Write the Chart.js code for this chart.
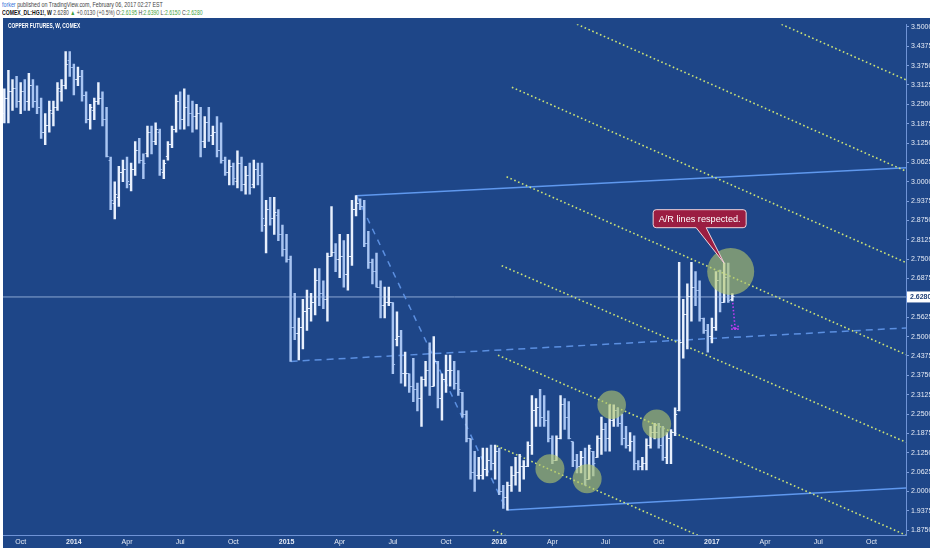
<!DOCTYPE html>
<html>
<head>
<meta charset="utf-8">
<script src="https://cdn.jsdelivr.net/npm/chart.js@4.4.0/dist/chart.umd.min.js"></script>
<style>
  html, body { margin: 0; padding: 0; background: #fff; }
  body { width: 932px; height: 550px; position: relative; overflow: hidden; font-family: 'Liberation Sans', Arial, sans-serif; }
  .hdr { position: absolute; left: 2px; white-space: nowrap; font-size: 7px; line-height: 8px; color: #444; transform-origin: left center; }
  .hdr b { color: #111; }
  .blue { color: #2f6fd8; }
  .green { color: #3f9f3f; }
  #wrap { position: absolute; left: 3px; top: 18px; width: 927px; height: 530px; background: #1e4688; }
  #title { position: absolute; left: 5px; top: 4px; color: #fff; font-size: 7px; font-weight: bold; white-space: nowrap; transform-origin: left center; z-index: 2; }
  canvas { position: absolute; left: 0; top: 0; }
</style>
</head>
<body>
<div class="hdr" style="top:1px" data-fit="161"><span class="blue">forker</span> published on TradingView.com, February 06, 2017 02:27 EST</div>
<div class="hdr" style="top:9px" data-fit="201"><b>COMEX_DL:HG1!, W</b> 2.6280 <span class="green">▲</span> +0.0130 (+0.5%) O:<span class="green">2.6195</span> H:<span class="green">2.6390</span> L:<span class="green">2.6150</span> C:<span class="green">2.6280</span></div>
<div id="wrap">
  <div id="title" data-fit="72">COPPER FUTURES, W, COMEX</div>
  <canvas id="chart"></canvas>
</div>
<script>
'use strict'

// weekly bars, index 0 = week of 2013-09-09
const firstBarDate = '2013-09-09';
const barHigh = [
  3.30,3.36,3.33,3.34,3.32,3.33,3.35,3.33,3.31,3.27,
  3.22,3.26,3.26,3.32,3.33,3.42,3.42,3.38,3.37,3.36,
  3.29,3.25,3.27,3.32,3.29,3.24,3.08,3.00,3.05,3.07,
  3.08,3.06,3.13,3.14,3.09,3.18,3.18,3.19,3.17,3.07,
  3.13,3.18,3.28,3.29,3.30,3.28,3.26,3.25,3.24,3.21,
  3.24,3.18,3.21,3.19,3.08,3.07,3.06,3.10,3.08,3.05,
  3.06,3.07,3.06,3.06,2.94,2.95,2.95,2.91,2.86,2.83,
  2.76,2.64,2.56,2.62,2.65,2.64,2.72,2.72,2.68,2.77,
  2.92,2.80,2.83,2.81,2.83,2.94,2.955,2.945,2.94,2.84,
  2.75,2.77,2.68,2.66,2.66,2.61,2.58,2.52,2.45,2.38,
  2.43,2.35,2.37,2.42,2.48,2.50,2.42,2.38,2.44,2.44,
  2.42,2.39,2.32,2.26,2.17,2.13,2.11,2.14,2.14,2.15,
  2.15,2.14,2.02,2.03,2.08,2.11,2.12,2.10,2.16,2.31,
  2.30,2.33,2.31,2.26,2.18,2.18,2.31,2.30,2.29,2.16,
  2.12,2.13,2.14,2.15,2.13,2.18,2.24,2.22,2.28,2.28,
  2.27,2.25,2.21,2.19,2.18,2.10,2.11,2.17,2.21,2.22,
  2.22,2.21,2.19,2.20,2.27,2.74,2.62,2.67,2.74,2.71,
  2.68,2.56,2.54,2.56,2.71,2.715,2.737,2.737,2.639
];
const barLow = [
  3.19,3.19,3.23,3.24,3.22,3.23,3.23,3.24,3.22,3.14,
  3.12,3.16,3.18,3.23,3.26,3.30,3.34,3.28,3.31,3.26,
  3.19,3.17,3.20,3.25,3.18,3.08,2.91,2.88,2.92,3.00,
  2.98,2.97,3.02,3.06,3.01,3.08,3.09,3.12,3.02,3.01,
  3.07,3.11,3.16,3.17,3.17,3.18,3.16,3.17,3.08,3.11,
  3.13,3.12,3.08,3.06,3.02,2.99,2.99,2.98,2.97,2.96,
  2.96,2.98,2.99,2.84,2.77,2.86,2.83,2.81,2.76,2.74,
  2.42,2.49,2.425,2.46,2.52,2.55,2.57,2.60,2.59,2.55,
  2.76,2.71,2.69,2.66,2.65,2.73,2.89,2.91,2.79,2.72,
  2.67,2.66,2.56,2.56,2.60,2.38,2.47,2.35,2.34,2.32,
  2.29,2.26,2.21,2.34,2.31,2.34,2.27,2.23,2.32,2.34,
  2.33,2.31,2.24,2.16,2.04,2.00,2.04,2.04,2.05,2.07,
  2.04,1.99,1.945,1.94,2.00,2.02,2.00,2.04,2.08,2.12,
  2.21,2.21,2.21,2.16,2.09,2.10,2.17,2.20,2.17,2.08,
  2.06,2.06,2.02,2.04,2.05,2.11,2.12,2.13,2.13,2.21,
  2.21,2.15,2.14,2.13,2.07,2.07,2.07,2.07,2.14,2.17,
  2.14,2.10,2.09,2.09,2.18,2.26,2.43,2.46,2.55,2.60,
  2.55,2.51,2.45,2.48,2.52,2.58,2.61,2.61,2.615
];
const barOpen = [
  3.22,3.27,3.29,3.30,3.26,3.29,3.26,3.31,3.26,3.24,
  3.16,3.18,3.22,3.24,3.29,3.31,3.39,3.37,3.33,3.34,
  3.28,3.20,3.23,3.26,3.27,3.20,3.07,2.93,2.95,3.03,
  3.04,2.99,3.04,3.10,3.07,3.09,3.16,3.13,3.16,3.03,
  3.08,3.12,3.17,3.26,3.20,3.24,3.22,3.21,3.22,3.13,
  3.19,3.15,3.16,3.10,3.07,3.03,3.05,3.00,3.06,2.99,
  3.02,2.99,3.04,3.02,2.86,2.91,2.88,2.89,2.83,2.78,
  2.75,2.53,2.51,2.53,2.58,2.59,2.61,2.68,2.64,2.62,
  2.76,2.77,2.75,2.76,2.70,2.76,2.91,2.93,2.92,2.80,
  2.74,2.71,2.66,2.60,2.61,2.61,2.49,2.50,2.38,2.38,
  2.34,2.33,2.30,2.36,2.39,2.34,2.42,2.30,2.36,2.39,
  2.39,2.35,2.32,2.25,2.17,2.06,2.05,2.05,2.07,2.10,
  2.09,2.13,2.00,1.98,2.02,2.05,2.06,2.08,2.08,2.15,
  2.26,2.27,2.24,2.23,2.17,2.10,2.17,2.28,2.24,2.16,
  2.10,2.08,2.11,2.04,2.13,2.11,2.17,2.20,2.17,2.23,
  2.26,2.22,2.17,2.15,2.16,2.09,2.08,2.09,2.15,2.19,
  2.19,2.15,2.11,2.17,2.19,2.26,2.48,2.57,2.63,2.66,
  2.65,2.56,2.52,2.50,2.53,2.68,2.61,2.69,2.6195
];
const barClose = [
  3.27,3.29,3.30,3.26,3.29,3.26,3.31,3.26,3.24,3.16,
  3.18,3.23,3.24,3.30,3.31,3.38,3.37,3.33,3.34,3.28,
  3.20,3.24,3.26,3.27,3.20,3.08,2.94,2.96,3.03,3.04,
  3.00,3.04,3.10,3.07,3.06,3.16,3.13,3.17,3.04,3.06,
  3.12,3.17,3.26,3.20,3.24,3.22,3.21,3.22,3.13,3.19,
  3.15,3.16,3.10,3.07,3.03,3.05,3.01,3.06,2.99,3.02,
  2.98,3.04,3.02,2.88,2.91,2.88,2.90,2.83,2.78,2.75,
  2.53,2.51,2.53,2.58,2.59,2.61,2.68,2.64,2.62,2.76,
  2.77,2.75,2.76,2.70,2.76,2.91,2.93,2.92,2.80,2.74,
  2.71,2.66,2.60,2.61,2.61,2.41,2.50,2.38,2.38,2.34,
  2.33,2.30,2.36,2.39,2.34,2.42,2.30,2.36,2.39,2.39,
  2.35,2.33,2.25,2.17,2.06,2.05,2.05,2.07,2.10,2.09,
  2.13,2.00,1.98,2.02,2.05,2.06,2.08,2.08,2.15,2.26,
  2.27,2.24,2.23,2.17,2.10,2.17,2.28,2.24,2.17,2.10,
  2.08,2.11,2.04,2.14,2.09,2.17,2.20,2.17,2.23,2.26,
  2.22,2.17,2.15,2.16,2.09,2.08,2.09,2.15,2.19,2.19,
  2.15,2.11,2.17,2.19,2.25,2.48,2.57,2.63,2.66,2.65,
  2.56,2.52,2.50,2.53,2.68,2.61,2.69,2.615,2.628
];

// time axis
const quarterMonths = ['2013-10','2014-01','2014-04','2014-07','2014-10','2015-01','2015-04','2015-07','2015-10',
  '2016-01','2016-04','2016-07','2016-10','2017-01','2017-04','2017-07','2017-10'];
const quarterLabels = ['Oct','2014','Apr','Jul','Oct','2015','Apr','Jul','Oct','2016','Apr','Jul','Oct','2017','Apr','Jul','Oct'];
const xRange = [-0.32, 220.46];

// price axis
const priceTicks = [1.875,1.9375,2.0,2.0625,2.125,2.1875,2.25,2.3125,2.375,2.4375,2.5,2.5625,2.625,2.6875,
  2.75,2.8125,2.875,2.9375,3.0,3.0625,3.125,3.1875,3.25,3.3125,3.375,3.4375,3.5];
const priceRange = [1.8595, 3.5086];

// drawings [bar index, price]
const upperTrend = [[86, 2.955], [220.46, 3.045]];
const lowerTrend = [[123, 1.94], [220.46, 2.011]];
const midDashed = [[70, 2.42], [220.46, 2.528]];
const fallDashed = [[86.2, 2.953], [122.4, 1.951]];
const arLines = [
  [[160, 3.685], [220.46, 3.329]],
  [[125, 3.597], [220.46, 3.034]],
  [[124.1, 3.305], [220.46, 2.739]],
  [[122.8, 3.016], [220.46, 2.442]],
  [[121.6, 2.729], [220.46, 2.159]],
  [[120.7, 2.440], [220.46, 1.859]],
  [[120.4, 2.147], [220.46, 1.560]],
  [[119.5, 1.875], [140, 1.755]]
];
const touchCircles = [[133.4, 2.073], [142.5, 2.041], [148.5, 2.280], [159.5, 2.218], [177.6, 2.710]];
const dropArrow = [[178.1, 2.609], [178.7, 2.524]];
const noteBar = 176;
const noteText = 'A/R lines respected.';

//==================================================================================================

const toPoints = (pairs) => pairs.map((p) => ({ x: p[0], y: p[1] }));
const lastClose = barClose[barClose.length - 1];
const isUp = barClose.map((c, i) => c >= barOpen[i]);
const upColor = '#e8f0fd';
const downColor = '#a9c5f2';

// small tick images for open / close
function makeTick(color, side){
    const c = document.createElement('canvas');
    c.width = 6;
    c.height = 1;
    const g = c.getContext('2d');
    g.fillStyle = color;
    if(side == 'left')
        g.fillRect(0.9, 0, 2.1, 1);
    else
        g.fillRect(3, 0, 2.1, 1);
    return c;
}
const openUp = makeTick(upColor, 'left');
const openDown = makeTick(downColor, 'left');
const closeUp = makeTick(upColor, 'right');
const closeDown = makeTick(downColor, 'right');

// tick bar index of each quarter start
const firstTime = Date.parse(firstBarDate + 'T00:00:00Z');
const weekMs = 7 * 24 * 3600 * 1000;
const quarterIdx = quarterMonths.map((m) => {
    const t = Date.parse(m + '-01T00:00:00Z');
    return Math.ceil((t - firstTime) / weekMs);
});

function lineSet(pairs, color, width, dash, order){
    return {
        type: 'line',
        data: toPoints(pairs),
        borderColor: color,
        borderWidth: width,
        borderDash: dash,
        pointRadius: 0,
        fill: false,
        tension: 0,
        order: order
    };
}

const datasets = [];
datasets.push({
    type: 'scatter',
    data: toPoints(touchCircles),
    backgroundColor: 'rgba(178,198,108,0.62)',
    borderWidth: 0,
    pointRadius: [14.5, 14.5, 14.3, 14.5, 23.5],
    order: 0
});
datasets.push(lineSet(dropArrow, '#c23cf2', 1.6, [1.5, 2], 1));
datasets.push({
    type: 'bar',
    data: barHigh.map((h, i) => ({ x: i, y: [barLow[i], h] })),
    backgroundColor: isUp.map((u) => u ? upColor : downColor),
    borderWidth: 0,
    barThickness: 1.8,
    order: 3
});
datasets.push({
    type: 'scatter',
    data: barOpen.map((v, i) => ({ x: i, y: v })),
    pointStyle: (ctx) => isUp[ctx.dataIndex] ? openUp : openDown,
    pointRadius: 1,
    order: 2
});
datasets.push({
    type: 'scatter',
    data: barClose.map((v, i) => ({ x: i, y: v })),
    pointStyle: (ctx) => isUp[ctx.dataIndex] ? closeUp : closeDown,
    pointRadius: 1,
    order: 2
});
datasets.push(lineSet([[xRange[0], lastClose], [xRange[1], lastClose]], 'rgba(160,185,225,0.85)', 1, [], 6));
datasets.push(lineSet(upperTrend, '#5f98ee', 1.5, [], 5));
datasets.push(lineSet(lowerTrend, '#5f98ee', 1.5, [], 5));
datasets.push(lineSet(midDashed, '#5b8fe0', 1.5, [7, 5], 5));
datasets.push(lineSet(fallDashed, '#5b8fe0', 1.5, [6, 6], 5));
arLines.forEach((l) => {
    datasets.push(lineSet(l, 'rgba(214,236,118,0.95)', 1.6, [1.6, 2.6], 4));
});

// callout, arrow head and last price tag
const overlayPlugin = {
    id: 'overlay',
    afterDatasetsDraw(chart){
        const ctx = chart.ctx;
        const xs = chart.scales.x;
        const ys = chart.scales.y;
        const area = chart.chartArea;

        // arrow head
        const ax = xs.getPixelForValue(dropArrow[1][0]);
        const ay = ys.getPixelForValue(dropArrow[1][1]);
        ctx.save();
        ctx.strokeStyle = '#c23cf2';
        ctx.lineWidth = 1.6;
        ctx.setLineDash([1.5, 1.5]);
        ctx.beginPath();
        ctx.moveTo(ax - 4, ay - 4);
        ctx.lineTo(ax, ay);
        ctx.lineTo(ax + 4, ay - 4);
        ctx.moveTo(ax - 4, ay);
        ctx.lineTo(ax + 5, ay);
        ctx.stroke();
        ctx.restore();

        // callout box
        const tx = xs.getPixelForValue(noteBar);
        const ty = ys.getPixelForValue(barHigh[noteBar]);
        const l = tx - 71, r = tx + 22, t = ty - 53.5, b = ty - 35.5, rad = 3;
        ctx.save();
        ctx.beginPath();
        ctx.moveTo(l + rad, t);
        ctx.lineTo(r - rad, t);
        ctx.quadraticCurveTo(r, t, r, t + rad);
        ctx.lineTo(r, b - rad);
        ctx.quadraticCurveTo(r, b, r - rad, b);
        ctx.lineTo(tx - 18, b);
        ctx.lineTo(tx, ty);
        ctx.lineTo(tx - 28, b);
        ctx.lineTo(l + rad, b);
        ctx.quadraticCurveTo(l, b, l, b - rad);
        ctx.lineTo(l, t + rad);
        ctx.quadraticCurveTo(l, t, l + rad, t);
        ctx.closePath();
        ctx.fillStyle = '#9b1d42';
        ctx.fill();
        ctx.strokeStyle = '#f2d6dc';
        ctx.lineWidth = 1;
        ctx.stroke();
        ctx.font = '10px "Liberation Sans", Arial, sans-serif';
        const size = 10 * 82 / ctx.measureText(noteText).width;
        ctx.font = size.toFixed(2) + 'px "Liberation Sans", Arial, sans-serif';
        ctx.fillStyle = '#ffffff';
        ctx.textAlign = 'center';
        ctx.textBaseline = 'middle';
        ctx.fillText(noteText, (l + r) / 2, (t + b) / 2 + 0.5);
        ctx.restore();

        // last price tag
        const py = ys.getPixelForValue(lastClose);
        ctx.save();
        ctx.fillStyle = '#ffffff';
        ctx.fillRect(area.right + 1, py - 5.5, 24, 11);
        ctx.fillStyle = '#1e3f78';
        ctx.font = 'bold 7px "Liberation Sans", Arial, sans-serif';
        ctx.textBaseline = 'middle';
        ctx.fillText(lastClose.toFixed(4), area.right + 4, py + 0.5);
        ctx.restore();
    }
};

new Chart(document.getElementById('chart'), {
    type: 'line',
    data: { datasets: datasets },
    options: {
        responsive: true,
        maintainAspectRatio: false,
        animation: false,
        layout: { padding: 0, autoPadding: false },
        plugins: { legend: { display: false }, tooltip: { enabled: false } },
        scales: {
            x: {
                type: 'linear',
                position: 'bottom',
                min: xRange[0],
                max: xRange[1],
                offset: false,
                grid: { drawOnChartArea: false, drawTicks: false },
                border: { color: '#6f93d6', width: 1 },
                ticks: {
                    autoSkip: false,
                    maxRotation: 0,
                    padding: 3,
                    color: '#e4eaf5',
                    font: (ctx) => ({ family: 'Liberation Sans', size: 7, weight: /^\d/.test(quarterLabels[ctx.index] || '') ? 'bold' : 'normal' }),
                    callback: (v, i) => quarterLabels[i]
                },
                afterBuildTicks: (scale) => {
                    scale.ticks = quarterIdx.map((v) => ({ value: v }));
                },
                afterFit: (scale) => { scale.height = 13; }
            },
            y: {
                type: 'linear',
                position: 'right',
                min: priceRange[0],
                max: priceRange[1],
                grid: { drawOnChartArea: false, drawTicks: true, tickLength: 3, color: '#7f9fdc' },
                border: { color: '#6f93d6', width: 1 },
                ticks: {
                    padding: 2,
                    color: '#e4eaf5',
                    font: { family: 'Liberation Sans', size: 7 },
                    callback: (v) => Number(v).toFixed(4)
                },
                afterBuildTicks: (scale) => {
                    scale.ticks = priceTicks.map((v) => ({ value: v }));
                },
                afterFit: (scale) => { scale.width = 24; }
            }
        }
    },
    plugins: [overlayPlugin]
});

// squeeze header text to the widths seen in the reference
document.querySelectorAll('[data-fit]').forEach((el) => {
    const target = parseFloat(el.dataset.fit);
    el.style.transform = 'scaleX(' + (target / el.offsetWidth).toFixed(3) + ')';
});
</script>
</body>
</html>
